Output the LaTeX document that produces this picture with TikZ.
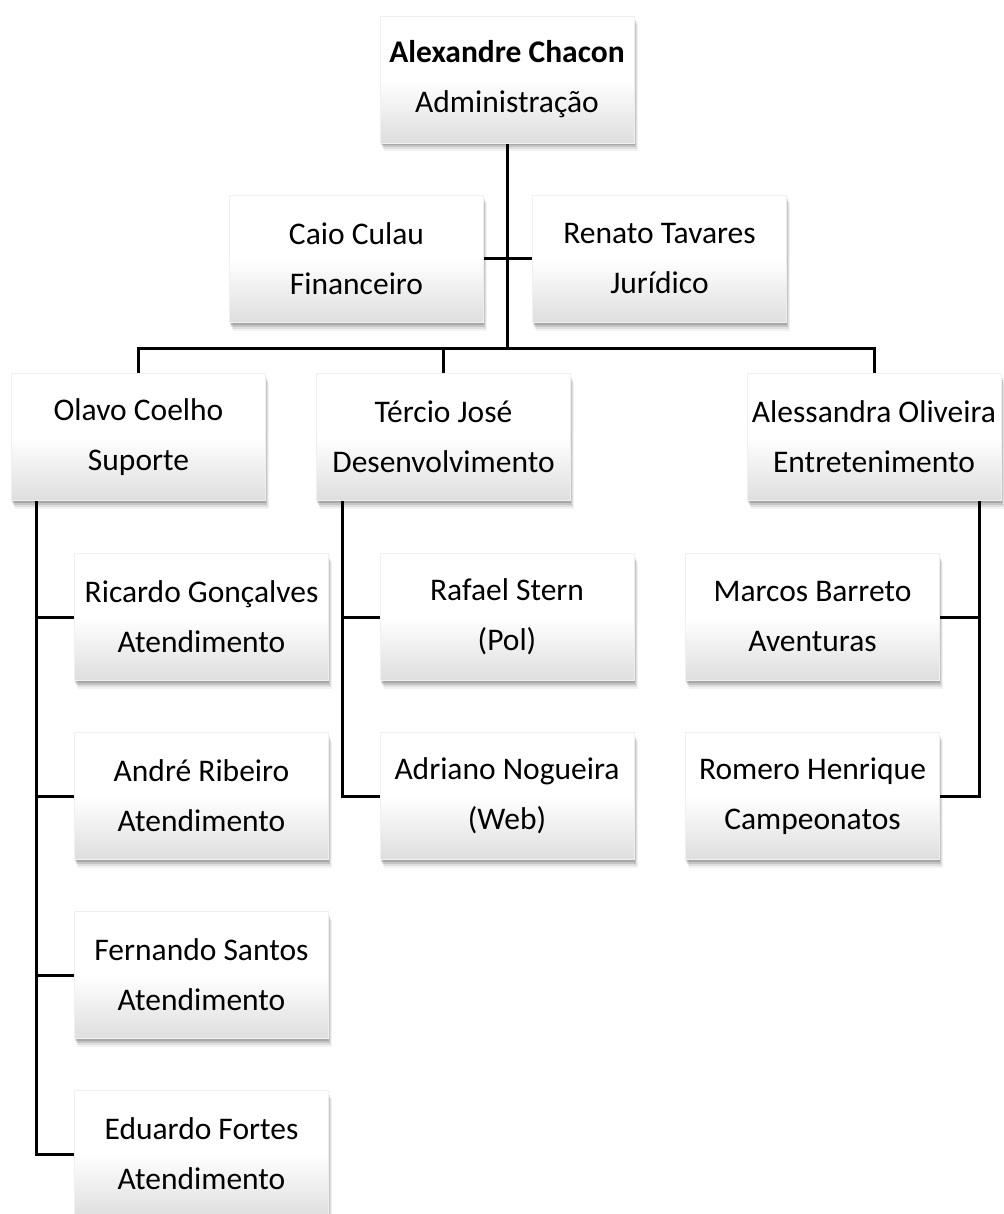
\documentclass[tikz,border=0pt]{standalone}
\usepackage{fontspec}
\setmainfont{Carlito}
\usetikzlibrary{shadows,backgrounds}
\begin{document}
\begin{tikzpicture}[x=1pt,y=-1pt,
  orgbox/.style={rectangle, minimum width=254pt, minimum height=127pt, inner sep=0pt,
    align=center, font=\fontsize{31.5}{50}\selectfont,
    top color=white, bottom color=black!13, middle color=white,
    draw=black!6, line width=0.5pt,
    drop shadow={shadow xshift=3.5pt, shadow yshift=-8pt, fill=black, opacity=0.05},
    drop shadow={shadow xshift=2.5pt, shadow yshift=-6pt, fill=black, opacity=0.08},
    drop shadow={shadow xshift=1.5pt, shadow yshift=-4pt, fill=black, opacity=0.12},
    drop shadow={shadow xshift=0.8pt, shadow yshift=-2pt, fill=black, opacity=0.15}},
  link/.style={line width=3pt, line cap=rect}]
\useasboundingbox (0,0) rectangle (1003,1214);
% nodes
\node[orgbox] (top) at (507,79.5) {\textbf{Alexandre Chacon}\\Administração};
\node[orgbox] (caio) at (356.5,259) {Caio Culau\\Financeiro};
\node[orgbox] (renato) at (659.5,259) {Renato Tavares\\Jurídico};
\node[orgbox] (olavo) at (138.5,437) {Olavo Coelho\\Suporte};
\node[orgbox] (tercio) at (443.5,437) {Tércio José\\Desenvolvimento};
\node[orgbox] (alessandra) at (874,437) {Alessandra Oliveira\\Entretenimento};
\node[orgbox] (ricardo) at (201.5,617) {Ricardo Gonçalves\\Atendimento};
\node[orgbox] (andre) at (201.5,796) {André Ribeiro\\Atendimento};
\node[orgbox] (fernando) at (201.5,975) {Fernando Santos\\Atendimento};
\node[orgbox] (eduardo) at (201.5,1154) {Eduardo Fortes\\Atendimento};
\node[orgbox] (rafael) at (507,617) {Rafael Stern\\(Pol)};
\node[orgbox] (adriano) at (507,796) {Adriano Nogueira\\(Web)};
\node[orgbox] (marcos) at (812.5,617) {Marcos Barreto\\Aventuras};
\node[orgbox] (romero) at (812.5,796) {Romero Henrique\\Campeonatos};
% connectors
\coordinate (bus) at (507,348);
\coordinate (ov) at ([xshift=25pt]olavo.south west);
\coordinate (tv) at ([xshift=26pt]tercio.south west);
\coordinate (av) at ([xshift=-22pt]alessandra.south east);
\begin{pgfonlayer}{background}
\draw[link] (top.south) -- (top.south |- bus);
\draw[link] (caio.east) -- (caio.east -| top.south);
\draw[link] (renato.west) -- (renato.west -| top.south);
\draw[link] (olavo.north |- bus) -- (alessandra.north |- bus);
\draw[link] (olavo.north) -- (olavo.north |- bus);
\draw[link] (tercio.north) -- (tercio.north |- bus);
\draw[link] (alessandra.north) -- (alessandra.north |- bus);
\draw[link] (ov) |- (eduardo.west);
\draw[link] (ricardo.west) -- (ricardo.west -| ov);
\draw[link] (andre.west) -- (andre.west -| ov);
\draw[link] (fernando.west) -- (fernando.west -| ov);
\draw[link] (tv) |- (adriano.west);
\draw[link] (rafael.west) -- (rafael.west -| tv);
\draw[link] (av) |- (romero.east);
\draw[link] (marcos.east) -- (marcos.east -| av);
\end{pgfonlayer}
\end{tikzpicture}
\end{document}
